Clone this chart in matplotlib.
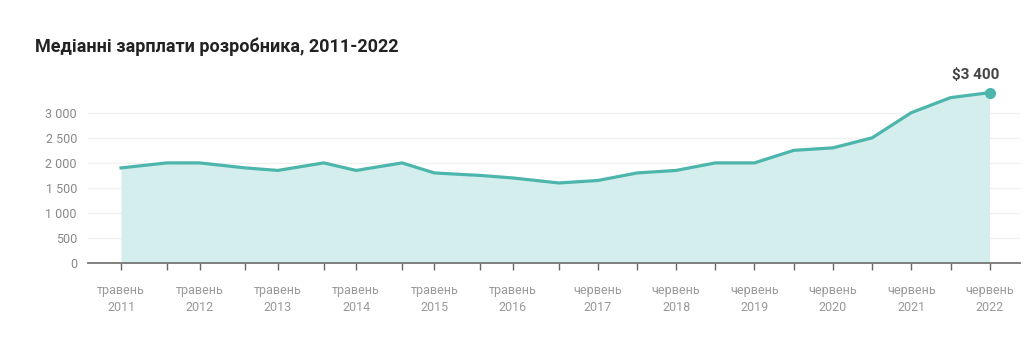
import matplotlib
matplotlib.use("Agg")
import matplotlib.pyplot as plt
import matplotlib.dates as mdates
import numpy as np
import datetime as dt

plt.rcParams['font.family'] = ['Roboto', 'DejaVu Sans']

dates = ["2011-05", "2011-12", "2012-05", "2012-12", "2013-05", "2013-12",
         "2014-05", "2014-12", "2015-05", "2015-12", "2016-05", "2016-12",
         "2017-06", "2017-12", "2018-06", "2018-12", "2019-06", "2019-12",
         "2020-06", "2020-12", "2021-06", "2021-12", "2022-06"]
salaries = [1900, 2000, 2000, 1900, 1850, 2000, 1850, 2000, 1800, 1750, 1700, 1600,
            1650, 1800, 1850, 2000, 2000, 2250, 2300, 2500, 3000, 3300, 3400]
label_dates = ["2011-05", "2012-05", "2013-05", "2014-05", "2015-05", "2016-05",
               "2017-06", "2018-06", "2019-06", "2020-06", "2021-06", "2022-06"]
label_texts = ["травень\n2011", "травень\n2012", "травень\n2013", "травень\n2014",
               "травень\n2015", "травень\n2016", "червень\n2017", "червень\n2018",
               "червень\n2019", "червень\n2020", "червень\n2021", "червень\n2022"]
y_ticks = [0, 500, 1000, 1500, 2000, 2500, 3000]
title = "Медіанні зарплати розробника, 2011-2022"
last_label = "$3 400"

def to_date(s):
    y, m = s.split("-")
    return dt.datetime(int(y), int(m), 1)

x = mdates.date2num([to_date(d) for d in dates])
lx = mdates.date2num([to_date(d) for d in label_dates])

line_color = "#4db6ac"
fill_color = "#d3eeec"

fig = plt.figure(figsize=(10.24, 3.61), dpi=100)
ax = fig.add_axes([88/1024, (361-263.3)/361, (1020-88)/1024, (263.3-87.6)/361])

ax.fill_between(x, 0, salaries, color=fill_color, linewidth=0, zorder=2)
ax.plot(x, salaries, color=line_color, linewidth=2.3, zorder=3, solid_joinstyle='round')
ax.plot(x[-1], salaries[-1], 'o', color=line_color, markersize=7, zorder=4)
ax.annotate(last_label, (x[-1], salaries[-1]), xytext=(-10, 8), textcoords='offset points',
            ha='center', va='bottom', fontsize=11, fontweight='bold', color='#444444')

ax.set_ylim(0, 3500)
ax.set_xlim(x[0] - 154, x[-1] + 142)
ax.set_yticks(y_ticks)
ax.set_yticklabels([f"{v:,}".replace(",", " ") for v in y_ticks])
ax.grid(axis='y', color='#f1f1f1', linewidth=1, zorder=0)
ax.set_axisbelow(True)

ax.set_xticks(lx)
ax.set_xticklabels(label_texts)
ax.set_xticks(x, minor=True)
ax.tick_params(axis='x', which='both', length=5, width=1, color='#666666',
               labelcolor='#999999', labelsize=9, pad=10)
ax.tick_params(axis='y', length=0, labelcolor='#888888', labelsize=9, pad=8)
for lbl in ax.get_xticklabels():
    lbl.set_linespacing(1.35)

for s in ['top', 'right', 'left']:
    ax.spines[s].set_visible(False)
ax.spines['bottom'].set_color('#777777')
ax.spines['bottom'].set_linewidth(1.3)
ax.spines['bottom'].set_zorder(5)

fig.text(35/1024, 1 - 47/361, title, fontsize=13, fontweight='bold', color='#222222',
         ha='left', va='center')

fig.savefig("out.png", dpi=100, facecolor='white')
